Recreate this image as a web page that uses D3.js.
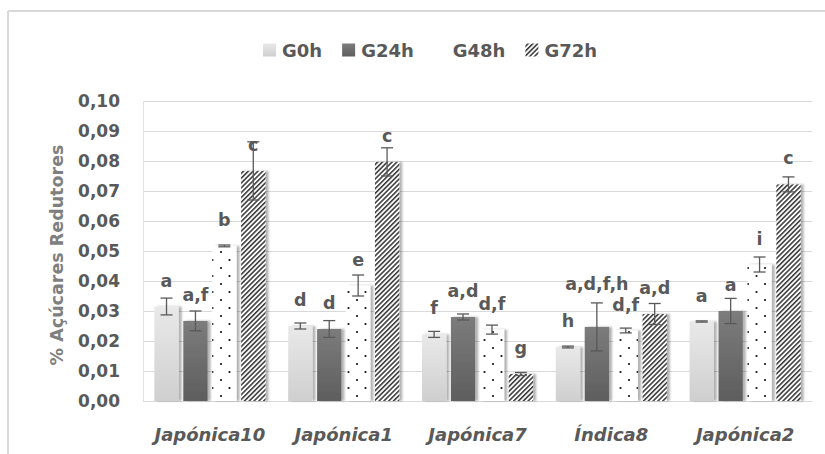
<!DOCTYPE html>
<html><head><meta charset="utf-8">
<script src="https://cdn.jsdelivr.net/npm/d3@7"></script>
<style>html,body{margin:0;padding:0;background:#fff;}svg{display:block;}</style>
</head><body>
<script>
const categories = ["Japónica10","Japónica1","Japónica7","Índica8","Japónica2"];
const seriesNames = ["G0h","G24h","G48h","G72h"];
const G0h  = [0.0315, 0.0250, 0.0222, 0.0180, 0.0265];
const G24h = [0.0267, 0.0240, 0.0280, 0.0247, 0.0300];
const G48h = [0.0517, 0.0385, 0.0238, 0.0235, 0.0455];
const G72h = [0.0767, 0.0797, 0.0090, 0.0290, 0.0722];
const G0hErr  = [0.0028, 0.0010, 0.0010, 0.0003, 0.0002];
const G24hErr = [0.0033, 0.0028, 0.0010, 0.0080, 0.0042];
const G48hErr = [0.0003, 0.0035, 0.0015, 0.0008, 0.0025];
const G72hErr = [0.0097, 0.0047, 0.0005, 0.0035, 0.0025];
const G0hLbl  = ["a","d","f","h","a"];
const G24hLbl = ["a,f","d","a,d","a,d,f,h","a"];
const G48hLbl = ["b","e","d,f","d,f","i"];
const G72hLbl = ["c","c","g","a,d","c"];
const yTicks = [0,0.01,0.02,0.03,0.04,0.05,0.06,0.07,0.08,0.09,0.10];
const yTitle = "% Açúcares Redutores";

const values = [G0h, G24h, G48h, G72h];
const errs = [G0hErr, G24hErr, G48hErr, G72hErr];
const lbls = [G0hLbl, G24hLbl, G48hLbl, G72hLbl];

const W = 825, H = 454;
const FONT = "'DejaVu Sans', sans-serif";
const TXT = "#595959";
const svg = d3.select("body").append("svg").attr("width", W).attr("height", H);
const defs = svg.append("defs");

// gradients
const g0 = defs.append("linearGradient").attr("id","gr0").attr("x1",0).attr("y1",0).attr("x2",0).attr("y2",1);
g0.append("stop").attr("offset","0%").attr("stop-color","#e9e9e9");
g0.append("stop").attr("offset","100%").attr("stop-color","#cfcfcf");
const g1 = defs.append("linearGradient").attr("id","gr1").attr("x1",0).attr("y1",0).attr("x2",0).attr("y2",1);
g1.append("stop").attr("offset","0%").attr("stop-color","#7c7c7c");
g1.append("stop").attr("offset","100%").attr("stop-color","#5e5e5e");
// dots pattern
const pd = defs.append("pattern").attr("id","dots").attr("patternUnits","userSpaceOnUse")
  .attr("width",17).attr("height",16);
pd.append("rect").attr("width",17).attr("height",16).attr("fill","#fff");
pd.append("circle").attr("cx",8.5).attr("cy",4).attr("r",1.1).attr("fill","#111");
pd.append("circle").attr("cx",0).attr("cy",12).attr("r",1.1).attr("fill","#111");
pd.append("circle").attr("cx",17).attr("cy",12).attr("r",1.1).attr("fill","#111");
// hatch pattern
const ph = defs.append("pattern").attr("id","hatch").attr("patternUnits","userSpaceOnUse")
  .attr("width",3.4).attr("height",3.4).attr("patternTransform","rotate(45)");
ph.append("rect").attr("width",3.4).attr("height",3.4).attr("fill","#fff");
ph.append("line").attr("x1",0.8).attr("y1",0).attr("x2",0.8).attr("y2",3.4)
  .attr("stroke","#111").attr("stroke-width",1.3);
// shadow
const flt = defs.append("filter").attr("id","shadow").attr("x","-20%").attr("y","-5%").attr("width","160%").attr("height","110%");
flt.append("feDropShadow").attr("dx",3).attr("dy",0).attr("stdDeviation",1.2)
  .attr("flood-color","#000").attr("flood-opacity",0.3);

const fills = ["url(#gr0)","url(#gr1)","url(#dots)","url(#hatch)"];

// chart frame
svg.append("line").attr("x1",8).attr("x2",W).attr("y1",11).attr("y2",11).attr("stroke","#d9d9d9").attr("stroke-width",2);
svg.append("line").attr("x1",8).attr("x2",8).attr("y1",11).attr("y2",H).attr("stroke","#d9d9d9").attr("stroke-width",2);

const pL = 143, pR = 812, pT = 101, pB = 401;
const x0 = d3.scaleBand().domain(categories).range([pL, pR]).paddingInner(0.17).paddingOuter(0.085);
const x1 = d3.scaleBand().domain(seriesNames).range([0, x0.bandwidth()]).paddingInner(0.16);
const y = d3.scaleLinear().domain([0, 0.1]).range([pB, pT]);
const loc = d3.formatLocale({decimal:",", thousands:".", grouping:[3], currency:["",""]});
const fmt = loc.format(".2f");

// gridlines
svg.append("g").selectAll("line").data(yTicks).join("line")
  .attr("x1", pL).attr("x2", pR)
  .attr("y1", d => Math.round(y(d)) + 0.5).attr("y2", d => Math.round(y(d)) + 0.5)
  .attr("stroke", "#d9d9d9").attr("stroke-width", 1);
svg.append("line").attr("x1", pL + 0.5).attr("x2", pL + 0.5).attr("y1", y(0.1)).attr("y2", y(0))
  .attr("stroke", "#e3e3e3");

// y axis labels
const yAxis = d3.axisLeft(y).tickValues(yTicks).tickFormat(fmt).tickSize(0).tickPadding(23);
const ya = svg.append("g").attr("transform", `translate(${pL},0)`).call(yAxis);
ya.select(".domain").remove();
ya.selectAll("text").attr("font-family", FONT).attr("font-weight", "bold")
  .attr("font-size", 17).attr("fill", TXT);

// y title
svg.append("text").attr("transform", "translate(63,255) rotate(-90)")
  .attr("text-anchor", "middle").attr("font-family", FONT).attr("font-weight", "bold")
  .attr("font-size", 17.5).attr("fill", "#7f7f7f").text(yTitle);

// x axis labels
const xAxis = d3.axisBottom(x0).tickSize(0).tickPadding(27);
const xa = svg.append("g").attr("transform", `translate(0,${pB})`).call(xAxis);
xa.select(".domain").remove();
xa.selectAll("text").attr("font-family", FONT).attr("font-weight", "bold").attr("font-style", "italic")
  .attr("font-size", 18).attr("fill", TXT);

// bars
const raised = new Set(["Índica8|G24h"]);
const data = [];
categories.forEach((c, i) => seriesNames.forEach((s, j) => {
  data.push({c, s, j, v: values[j][i], e: errs[j][i], l: lbls[j][i]});
}));
const gb = svg.append("g");
gb.selectAll("rect").data(data).join("rect")
  .attr("x", d => x0(d.c) + x1(d.s)).attr("width", x1.bandwidth())
  .attr("y", d => y(d.v)).attr("height", d => y(0) - y(d.v))
  .attr("fill", d => fills[d.j]).attr("filter", "url(#shadow)");

// error bars
const ge = svg.append("g").attr("stroke", "#595959").attr("stroke-width", 1.3);
data.forEach(d => {
  const cx = x0(d.c) + x1(d.s) + x1.bandwidth() / 2;
  const y1 = y(d.v + d.e), y2 = y(d.v - d.e);
  ge.append("line").attr("x1", cx).attr("x2", cx).attr("y1", y1).attr("y2", y2);
  ge.append("line").attr("x1", cx - 6).attr("x2", cx + 6).attr("y1", y1).attr("y2", y1);
  ge.append("line").attr("x1", cx - 6).attr("x2", cx + 6).attr("y1", y2).attr("y2", y2);
});

// data labels
svg.append("g").selectAll("text").data(data).join("text")
  .attr("x", d => x0(d.c) + x1(d.s) + x1.bandwidth() / 2)
  .attr("y", d => raised.has(d.c + "|" + d.s) ? y(d.v + d.e) - 13 : y(d.v) - 20)
  .attr("text-anchor", "middle").attr("font-family", FONT).attr("font-weight", "bold")
  .attr("font-size", 17.5).attr("fill", TXT).text(d => d.l);

// legend
const lg = svg.append("g").attr("transform", "translate(263,50)");
let lx = 0;
seriesNames.forEach((s, j) => {
  const it = lg.append("g").attr("transform", `translate(${lx},0)`);
  it.append("rect").attr("x", 0).attr("y", -6.5).attr("width", 13).attr("height", 13)
    .attr("fill", j === 2 ? "#fff" : fills[j]);
  const t = it.append("text").attr("x", 19).attr("y", 6.5).attr("font-family", FONT)
    .attr("font-weight", "bold").attr("font-size", 18).attr("fill", TXT).text(s);
  lx += 19 + t.node().getComputedTextLength() + 20;
});
</script>
</body></html>
